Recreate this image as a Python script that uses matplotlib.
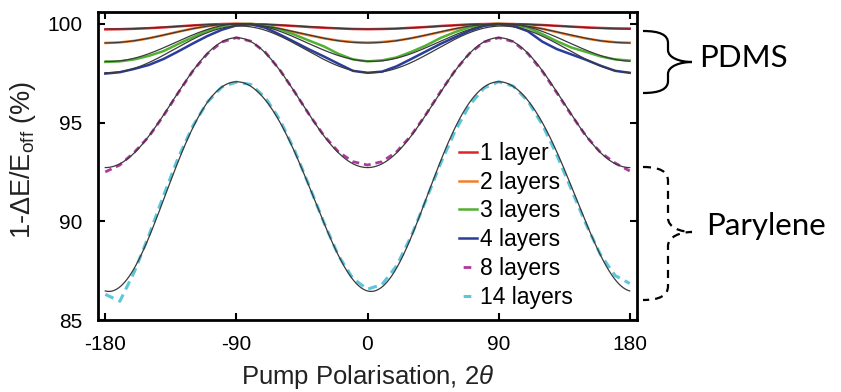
import numpy as np
import matplotlib
matplotlib.use("Agg")
import matplotlib.pyplot as plt
from matplotlib.path import Path
from matplotlib.patches import PathPatch
from matplotlib.lines import Line2D

plt.rcParams['font.family'] = ['Liberation Sans', 'DejaVu Sans']
plt.rcParams['mathtext.fontset'] = 'custom'
plt.rcParams['mathtext.rm'] = 'Liberation Sans'
plt.rcParams['mathtext.it'] = 'Liberation Sans:italic'
plt.rcParams['lines.scale_dashes'] = False

# ---------------- data ----------------
angles = np.arange(-180, 181, 10)  # pump polarisation 2theta (deg)

series_labels = ["1 layer", "2 layers", "3 layers", "4 layers", "8 layers", "14 layers"]

layer1 = [99.72, 99.73, 99.75, 99.78, 99.82, 99.87, 99.92, 99.96, 99.99, 100.0,
          99.99, 99.97, 99.93, 99.89, 99.84, 99.80, 99.77, 99.74, 99.73,
          99.74, 99.76, 99.80, 99.84, 99.89, 99.93, 99.97, 99.99, 100.0,
          99.99, 99.97, 99.94, 99.90, 99.86, 99.82, 99.79, 99.77, 99.76]
layer2 = [99.03, 99.06, 99.14, 99.27, 99.43, 99.60, 99.76, 99.88, 99.97, 100.0,
          99.97, 99.88, 99.75, 99.58, 99.42, 99.27, 99.15, 99.08, 99.05,
          99.08, 99.15, 99.27, 99.42, 99.58, 99.74, 99.87, 99.97, 100.0,
          99.97, 99.88, 99.75, 99.58, 99.41, 99.26, 99.14, 99.07, 99.04]
layer3 = [98.07, 98.10, 98.20, 98.38, 98.62, 98.98, 99.32, 99.65, 99.88, 99.98,
          100.0, 99.92, 99.72, 99.45, 99.15, 98.86, 98.48, 98.20, 98.10,
          98.15, 98.30, 98.58, 98.90, 99.28, 99.58, 99.83, 99.96, 100.0,
          99.95, 99.80, 99.48, 99.12, 98.80, 98.58, 98.35, 98.20, 98.14]
layer4 = [97.48, 97.55, 97.72, 97.92, 98.22, 98.60, 99.00, 99.38, 99.70, 99.92,
          99.98, 99.80, 99.45, 99.08, 98.70, 98.35, 97.98, 97.62, 97.52,
          97.58, 97.85, 98.22, 98.60, 98.98, 99.32, 99.65, 99.90, 99.98,
          99.90, 99.63, 99.10, 98.72, 98.45, 98.18, 97.88, 97.62, 97.52]
layer8 = [92.50, 92.85, 93.50, 94.30, 95.35, 96.50, 97.60, 98.48, 99.08, 99.30,
          99.12, 98.55, 97.65, 96.55, 95.40, 94.35, 93.52, 93.02, 92.85,
          93.02, 93.52, 94.35, 95.40, 96.55, 97.62, 98.50, 99.08, 99.30,
          99.10, 98.50, 97.60, 96.50, 95.38, 94.32, 93.48, 92.95, 92.55]
layer14 = [86.30, 85.95, 87.45, 89.30, 91.30, 93.21, 94.81, 96.03, 96.80, 97.05,
           96.93, 96.25, 95.12, 93.58, 91.79, 89.95, 88.27, 87.10, 86.56,
           86.80, 87.75, 89.25, 91.05, 92.90, 94.55, 95.88, 96.75, 97.07,
           96.85, 96.10, 94.90, 93.35, 91.60, 89.85, 88.30, 87.25, 86.85]

series_values = [layer1, layer2, layer3, layer4, layer8, layer14]
series_colors = ["#e0242a", "#f47d2c", "#52b033", "#2b3c9b", "#b03a9b", "#5cc6dc"]
series_dashed = [False, False, False, False, True, True]
fit_harmonics = [1, 1, 1, 1, 2, 2]

x_ticks = [-180, -90, 0, 90, 180]
y_ticks = [85, 90, 95, 100]

W, H = 841, 392


def fit_curve(x, y, nh, xd):
    xr = np.deg2rad(x)
    xdr = np.deg2rad(xd)
    cols = [np.ones_like(xr)]
    colsd = [np.ones_like(xdr)]
    for k in range(1, nh + 1):
        cols += [np.cos(2 * k * xr), np.sin(2 * k * xr)]
        colsd += [np.cos(2 * k * xdr), np.sin(2 * k * xdr)]
    coef, *_ = np.linalg.lstsq(np.column_stack(cols), np.asarray(y), rcond=None)
    return np.column_stack(colsd) @ coef


fig = plt.figure(figsize=(W / 100, H / 100), dpi=100)
ax = fig.add_axes([98 / W, 1 - 320 / H, (637 - 98) / W, (320 - 12) / H])

xd = np.linspace(-180, 180, 721)
handles = []
for vals, col, dashed, lab in zip(series_values, series_colors, series_dashed, series_labels):
    if dashed:
        if col == "#5cc6dc":
            ls, lw = (0, (6.5, 4.0)), 2.2
        else:
            ls, lw = (0, (5.0, 3.5)), 2.0
    else:
        ls, lw = '-', 1.8
    ax.plot(angles, vals, color=col, lw=lw, linestyle=ls, zorder=2)
    if dashed:
        handles.append(Line2D([], [], color=col, lw=lw, linestyle=(32.5, (5.5, 30)), label=lab))
    else:
        handles.append(Line2D([], [], color=col, lw=lw, label=lab))

for vals, nh in zip(series_values, fit_harmonics):
    ax.plot(xd, fit_curve(angles, vals, nh, xd), color="#3a3a3a", lw=0.9, zorder=3)

ax.set_xlim(-185, 185)
ax.set_ylim(85, 100.6)
ax.set_xticks(x_ticks)
ax.set_yticks(y_ticks)
ax.set_xticklabels([str(t) for t in x_ticks])
ax.set_yticklabels([str(t) for t in y_ticks])
ax.tick_params(direction='in', length=5, width=1.5, top=True, right=True,
               labelsize=15, colors='black')
ax.tick_params(axis='y', pad=11)
ax.tick_params(axis='x', pad=11)
for sp in ax.spines.values():
    sp.set_linewidth(2.0)

ax.set_xlabel(r"Pump Polarisation, 2$\it{\theta}$", fontsize=18.5, color='#222222')
ax.xaxis.set_label_coords(0.5, (320 - 363) / 308)
ax.set_ylabel(r"1-ΔE/E$_{\rm off}$ (%)", fontsize=19.5, color='#222222')
ax.yaxis.set_label_coords((38 - 98) / 539, (320 - 160) / 308)

leg = ax.legend(handles=handles, loc='upper left',
                bbox_to_anchor=((459 - 98) / 539, (320 - 142) / 308),
                frameon=False, fontsize=16.5, handlelength=0.8, handletextpad=0.1,
                labelspacing=0.25, borderpad=0, borderaxespad=0)


def brace(x0, xm, xt, ytop, ymid, ybot, r, dashed):
    pts = [
        (x0, ytop),
        (x0 + 0.7 * (xm - x0), ytop), (xm, ytop + 0.35 * r), (xm, ytop + r),
        (xm, ymid - r),
        (xm, ymid - 0.35 * r), (xm + 0.5 * (xt - xm), ymid), (xt, ymid),
        (xm + 0.5 * (xt - xm), ymid), (xm, ymid + 0.35 * r), (xm, ymid + r),
        (xm, ybot - r),
        (xm, ybot - 0.35 * r), (x0 + 0.7 * (xm - x0), ybot), (x0, ybot),
    ]
    codes = [Path.MOVETO,
             Path.CURVE4, Path.CURVE4, Path.CURVE4,
             Path.LINETO,
             Path.CURVE4, Path.CURVE4, Path.CURVE4,
             Path.CURVE4, Path.CURVE4, Path.CURVE4,
             Path.LINETO,
             Path.CURVE4, Path.CURVE4, Path.CURVE4]
    verts = [(px / W, 1 - py / H) for px, py in pts]
    patch = PathPatch(Path(verts, codes), transform=fig.transFigure, fill=False,
                      lw=1.6, edgecolor='black',
                      linestyle=(0, (5.8, 4.3)) if dashed else '-', clip_on=False)
    fig.add_artist(patch)


brace(643, 668, 692, 31, 62, 93, 12, False)
brace(643, 668, 692, 167, 232, 300, 14, True)

fig.text(699 / W, 1 - 58 / H, "PDMS", fontsize=22.5, family='Lato', va='center', ha='left')
fig.text(706 / W, 1 - 226 / H, "Parylene", fontsize=22.5, family='Lato', va='center', ha='left')

fig.savefig("out.png", dpi=100)
